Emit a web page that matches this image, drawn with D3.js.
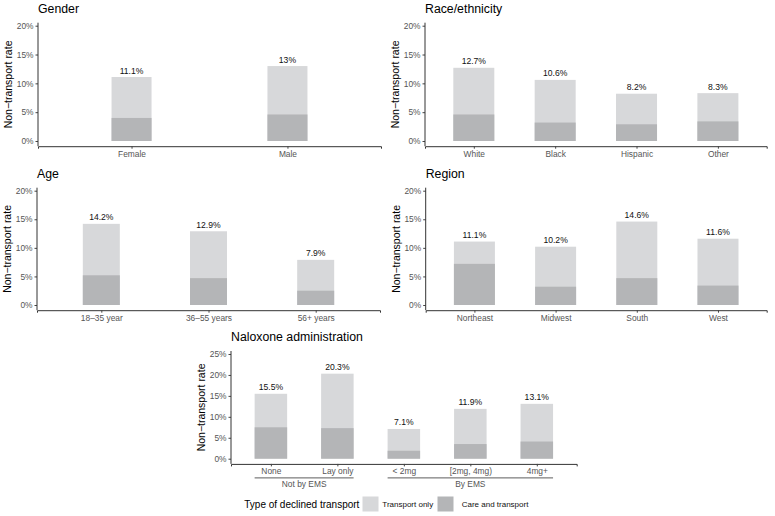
<!DOCTYPE html>
<html>
<head>
<meta charset="utf-8">
<script src="https://cdn.jsdelivr.net/npm/d3@7"></script>
<style>
  body { margin: 0; background: #fff; }
  svg { font-family: "Liberation Sans", Arial, Helvetica, sans-serif; }
</style>
</head>
<body>
<svg id="chart" width="775" height="516"></svg>
<script>
// ---- Data ----
const genderCats = ["Female", "Male"];
const genderTotal = [11.1, 13];
const genderCare = [4.0, 4.6];

const raceCats = ["White", "Black", "Hispanic", "Other"];
const raceTotal = [12.7, 10.6, 8.2, 8.3];
const raceCare = [4.6, 3.2, 2.9, 3.4];

const ageCats = ["18–35 year", "36–55 years", "56+ years"];
const ageTotal = [14.2, 12.9, 7.9];
const ageCare = [5.2, 4.7, 2.5];

const regionCats = ["Northeast", "Midwest", "South", "West"];
const regionTotal = [11.1, 10.2, 14.6, 11.6];
const regionCare = [7.2, 3.2, 4.7, 3.4];

const naloxoneCats = ["None", "Lay only", "< 2mg", "[2mg, 4mg)", "4mg+"];
const naloxoneGroups = ["Not by EMS", "Not by EMS", "By EMS", "By EMS", "By EMS"];
const naloxoneTotal = [15.5, 20.3, 7.1, 11.9, 13.1];
const naloxoneCare = [7.5, 7.3, 1.9, 3.5, 4.1];

const ticks20 = [0, 5, 10, 15, 20];
const ticks25 = [0, 5, 10, 15, 20, 25];

const legendTitle = "Type of declined transport";
const seriesNames = ["Transport only", "Care and transport"];
const colors = ["#d7d8da", "#b4b5b7"];

// ---- Drawing ----
const svg = d3.select("#chart");
const fmt = v => `${v}%`;

function panel(o) {
  const g = svg.append("g");
  const x = d3.scalePoint().domain(o.cats).range([o.x0, o.x1]).padding(0.6);
  const ymax = o.ticks[o.ticks.length - 1];
  const y = d3.scaleLinear().domain([0, ymax]).range([o.yb, o.yt]);
  const axisY = o.yb + 5.2;
  const topY = o.yt - 3;

  // title
  g.append("text").attr("x", o.x0).attr("y", o.yt - 12.7)
    .attr("font-size", 12.3).attr("fill", "#000").text(o.title);

  // bars
  const data = o.cats.map((c, i) => ({ c, total: o.total[i], care: o.care[i] }));
  const bw = o.bw;
  g.selectAll("rect.tot").data(data).join("rect")
    .attr("x", d => x(d.c) - bw / 2).attr("width", bw)
    .attr("y", d => y(d.total)).attr("height", d => y(0) - y(d.total))
    .attr("fill", colors[0]);
  g.selectAll("rect.care").data(data).join("rect")
    .attr("x", d => x(d.c) - bw / 2).attr("width", bw)
    .attr("y", d => y(d.care)).attr("height", d => y(0) - y(d.care))
    .attr("fill", colors[1]);
  g.selectAll("text.lab").data(data).join("text")
    .attr("x", d => x(d.c)).attr("y", d => y(d.total) - 3.5)
    .attr("text-anchor", "middle").attr("font-size", 8.6).attr("fill", "#111")
    .text(d => fmt(d.total));

  // y axis
  const ya = g.append("g").attr("transform", `translate(${o.x0},0)`)
    .call(d3.axisLeft(y).tickValues(o.ticks).tickFormat(fmt).tickSize(2.5).tickPadding(2));
  ya.select(".domain").remove();
  ya.selectAll(".tick line").attr("stroke", "#444");
  ya.selectAll(".tick text").attr("font-size", 8.4).attr("fill", "#555")
    .attr("font-family", "Liberation Sans, Arial, sans-serif");
  g.append("line").attr("x1", o.x0).attr("x2", o.x0).attr("y1", topY).attr("y2", axisY)
    .attr("stroke", "#333").attr("stroke-width", 1);

  // x axis
  const xa = g.append("g").attr("transform", `translate(0,${axisY})`)
    .call(d3.axisBottom(x).tickSize(2.5).tickPadding(2));
  xa.select(".domain").attr("stroke", "#333");
  xa.selectAll(".tick line").attr("stroke", "#444");
  xa.selectAll(".tick text").attr("font-size", 8.4).attr("fill", "#555")
    .attr("font-family", "Liberation Sans, Arial, sans-serif");

  // y axis title
  const cy = (topY + axisY) / 2;
  g.append("text").attr("transform", `translate(${o.x0 - 26},${cy}) rotate(-90)`)
    .attr("text-anchor", "middle").attr("font-size", 10.5).attr("fill", "#000")
    .text("Non−transport rate");

  return { g, x, y, axisY };
}

panel({ title: "Gender", cats: genderCats, total: genderTotal, care: genderCare,
  ticks: ticks20, x0: 38, x1: 381, yb: 141, yt: 25.7, bw: 40 });
panel({ title: "Race/ethnicity", cats: raceCats, total: raceTotal, care: raceCare,
  ticks: ticks20, x0: 425, x1: 766.7, yb: 141, yt: 25.7, bw: 41 });
panel({ title: "Age", cats: ageCats, total: ageTotal, care: ageCare,
  ticks: ticks20, x0: 37, x1: 380, yb: 305, yt: 190.7, bw: 37 });
panel({ title: "Region", cats: regionCats, total: regionTotal, care: regionCare,
  ticks: ticks20, x0: 425.7, x1: 766.7, yb: 305, yt: 190.7, bw: 41 });
const nal = panel({ title: "Naloxone administration", cats: naloxoneCats, total: naloxoneTotal, care: naloxoneCare,
  ticks: ticks25, x0: 231, x1: 576.7, yb: 458.7, yt: 354, bw: 32.5 });

// group labels for naloxone
const groups = Array.from(new Set(naloxoneGroups));
groups.forEach(gr => {
  const members = naloxoneCats.filter((c, i) => naloxoneGroups[i] === gr);
  const xs = members.map(c => nal.x(c));
  const left = d3.min(xs) - 16.25, right = d3.max(xs) + 16.25;
  nal.g.append("line").attr("x1", left).attr("x2", right)
    .attr("y1", nal.axisY + 14).attr("y2", nal.axisY + 14)
    .attr("stroke", "#333").attr("stroke-width", 0.8);
  nal.g.append("text").attr("x", (left + right) / 2).attr("y", nal.axisY + 23.5)
    .attr("text-anchor", "middle").attr("font-size", 8.4).attr("fill", "#555").text(gr);
});

// legend
const lg = svg.append("g");
lg.append("text").attr("x", 244.3).attr("y", 507.5).attr("font-size", 10).attr("fill", "#000").text(legendTitle);
const keyX = [362.5, 437.5];
const txtX = [382.3, 461.7];
seriesNames.forEach((s, i) => {
  lg.append("rect").attr("x", keyX[i]).attr("y", 496.5).attr("width", 16).attr("height", 15).attr("fill", colors[i]);
  lg.append("text").attr("x", txtX[i]).attr("y", 506.8).attr("font-size", 8).attr("fill", "#111").text(s);
});
</script>
</body>
</html>
